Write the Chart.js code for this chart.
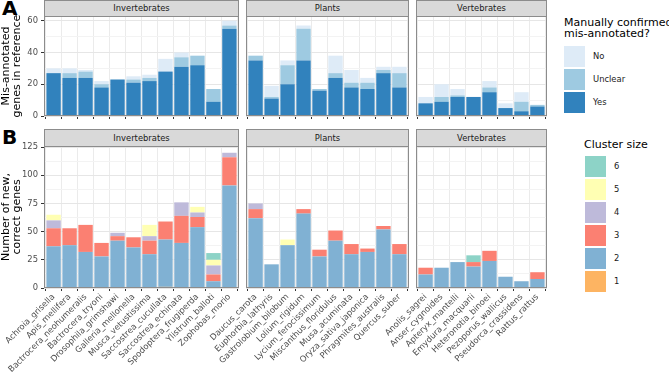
<!DOCTYPE html>
<html>
<head>
<meta charset="utf-8">
<script src="https://cdn.jsdelivr.net/npm/chart.js@4"></script>
<style>
body{margin:0;width:669px;height:374px;position:relative;background:#fff;font-family:"DejaVu Sans",sans-serif;overflow:hidden}
canvas{position:absolute}
.strip{position:absolute;box-sizing:border-box;background:#d9d9d9;border:1px solid #8c8c8c;color:#1a1a1a;font-size:8.4px;text-align:center}
.tag{position:absolute;font-weight:bold;font-size:20px;line-height:20px;color:#000}
.lgt{position:absolute;font-size:11px;line-height:10.5px;color:#000;white-space:nowrap}
.lgl{position:absolute;font-size:8.4px;color:#1a1a1a}
.key{position:absolute;width:21px;height:21px}
</style>
</head>
<body>
<div class="tag" style="left:2px;top:-2px">A</div>
<div class="tag" style="left:2px;top:127px">B</div>
<script>
// facets and species
const groups=['Invertebrates','Plants','Vertebrates'];
const invertebrates=['Achroia_grisella','Apis_mellifera','Bactrocera_neohumeralis','Bactrocera_tryoni','Drosophila_grimshawi','Galleria_mellonella','Musca_vetustissima','Saccostrea_cucullata','Saccostrea_echinata','Spodoptera_frugiperda','Ylistrum_balloti','Zophobas_morio'];
const plants=['Daucus_carota','Euphorbia_lathyris','Gastrolobium_bilobum','Lolium_rigidum','Lycium_ferocissimum','Miscanthus_floridulus','Musa_acuminata','Oryza_sativa_japonica','Phragmites_australis','Quercus_suber'];
const vertebrates=['Anolis_sagrei','Anser_cygnoides','Apteryx_mantelli','Emydura_macquarii','Heteronotia_binoei','Pezoporus_wallicus','Pseudorca_crassidens','Rattus_rattus'];
const speciesByGroup=[invertebrates,plants,vertebrates];

// panel A: mis-annotated genes in reference (per facet)
const misLevels=['Yes','Unclear','No'];
const misYes=[[27,24,24,18,23,21,22,28,31,32,9,55],[35,11,20,35,16,24,18,17,27,18],[8,9,12,12,15,5,3,6]];
const misUnclear=[[0,3,4,2,0,2,2,0,6,6,8,2],[3,1,12,20,1,3,3,4,2,9],[0,3,1,0,3,0,6,1]];
const misNo=[[3,3,1,2,0,2,2,8,3,0,0,3],[0,7,3,2,0,11,8,3,2,4],[4,8,4,0,4,3,6,0]];
const misColors=['#3182bd','#9ecae1','#deebf7'];

// panel B: new, correct genes by cluster size
const clusterLevels=['1','2','3','4','5','6'];
const cluster1=[[0,0,0,0,0,0,0,1,0,0,0,0],[0,0,0,0,0,0,0,0,0,0],[0,0,0,0,0,0,0,0]];
const cluster2=[[37,38,32,28,42,36,30,42,40,54,6,91],[62,21,38,66,28,42,30,32,52,30],[12,18,23,19,24,10,6,8]];
const cluster3=[[16,15,24,12,4,9,12,16,24,9,6,25],[8,0,0,4,6,9,9,3,3,9],[6,0,0,4,9,0,0,6]];
const cluster4=[[7,0,0,0,3,0,4,0,12,4,8,4],[5,0,0,0,0,0,0,0,0,0],[0,0,0,0,0,0,0,0]];
const cluster5=[[5,0,0,0,0,0,10,0,0,5,5,0],[0,0,5,0,0,0,0,0,0,0],[0,0,0,0,0,0,0,0]];
const cluster6=[[0,0,0,0,0,0,0,0,0,0,6,0],[0,0,0,0,0,0,0,0,0,0],[0,0,0,6,0,0,0,0]];
const clusterColors=['#fdb462','#80b1d3','#fb8072','#bebada','#ffffb3','#8dd3c7'];

const yTicksA=[0,20,40,60];
const yTicksB=[0,25,50,75,100,125];

Chart.defaults.font.family='"DejaVu Sans", sans-serif';
const panelX=[[44,239],[246,409],[416,547]];

const panelBorder={id:'panelBorder',afterDraw(c){
  const a=c.chartArea,ctx=c.ctx;
  ctx.save();ctx.strokeStyle='#8c8c8c';ctx.lineWidth=1;
  ctx.strokeRect(Math.round(a.left)+0.5,Math.round(a.top)+0.5,Math.round(a.right-a.left)-1,Math.round(a.bottom-a.top)-1);
  ctx.restore();
}};

function withMinor(t){
  const out=[];
  t.forEach((v,i)=>{out.push(v);if(i<t.length-1)out.push((v+t[i+1])/2);});
  return out;
}

function makePanel(g,top,bottom,yMax,ticks,series,colors,levels,showLabels,yTitle){
  const names=speciesByGroup[g];
  const [x0,x1]=panelX[g];
  const first=g===0;
  const L=first?44:60,R=4,T=10;
  const xH=showLabels?374-bottom:4;
  const padB=showLabels?0:6;
  const W=L+(x1-x0)+R,H=T+(bottom-top)+xH+padB;
  const cv=document.createElement('canvas');
  cv.width=W;cv.height=H;
  cv.style.left=(x0-L)+'px';cv.style.top=(top-T)+'px';
  cv.style.width=W+'px';cv.style.height=H+'px';
  document.body.appendChild(cv);

  const st=document.createElement('div');
  st.className='strip';
  st.textContent=groups[g];
  const sh=showLabels?18:17, stTop=top-sh+1;
  st.style.cssText+=`left:${x0}px;top:${stTop}px;width:${x1-x0}px;height:${sh}px;line-height:${sh-2}px`;
  document.body.appendChild(st);

  const yAll=withMinor(ticks);
  new Chart(cv,{
    type:'bar',
    data:{datasets:series.map((s,k)=>({
      label:levels[k],
      data:s[g].map((v,i)=>({x:i+1,y:v})),
      backgroundColor:colors[k],
      borderWidth:0,
      barPercentage:0.9,
      categoryPercentage:1
    }))},
    options:{
      responsive:false,animation:false,
      layout:{padding:{left:first?0:L,right:R,top:T,bottom:padB}},
      plugins:{legend:{display:false},tooltip:{enabled:false}},
      scales:{
        x:{type:'linear',stacked:true,min:0.4,max:names.length+0.6,offset:false,
          afterBuildTicks:s=>{s.ticks=names.map((_,i)=>({value:i+1}));},
          afterFit:s=>{s.height=xH;},
          ticks:{display:showLabels,autoSkip:false,maxRotation:45,minRotation:45,padding:1,color:'#4d4d4d',font:{size:8.4},callback:v=>names[v-1]},
          grid:{color:'#ebebeb',drawTicks:true,tickLength:3,tickColor:'#333'},
          border:{display:false}},
        y:{stacked:true,min:0,max:yMax,
          afterBuildTicks:s=>{s.ticks=yAll.map(v=>({value:v}));},
          afterFit:s=>{s.width=first?L:0;},
          ticks:{display:first,padding:3,color:'#4d4d4d',font:{size:8.4},callback:v=>ticks.includes(v)?v:''},
          grid:{color:c=>ticks.includes(c.tick.value)?'#e6e6e6':'#f3f3f3',drawTicks:first,tickLength:3,
                tickColor:c=>ticks.includes(c.tick.value)?'#333':'rgba(0,0,0,0)'},
          border:{display:false},
          title:{display:first,text:yTitle,color:'#000',font:{size:11,lineHeight:0.95},padding:{top:1,bottom:0}}}
      }
    },
    plugins:[panelBorder]
  });
}

for(let g=0;g<3;g++){
  makePanel(g,16,116,63,yTicksA,[misYes,misUnclear,misNo],misColors,misLevels,false,['Mis-annotated','genes in reference']);
  makePanel(g,146,288,126,yTicksB,[cluster1,cluster2,cluster3,cluster4,cluster5,cluster6],clusterColors,clusterLevels,true,['Number of new,','correct genes']);
}

function legend(title,left,top,keyLeft,keyTops,levels,colors){
  const t=document.createElement('div');
  t.className='lgt';t.style.left=left+'px';t.style.top=top+'px';
  t.innerHTML=title;document.body.appendChild(t);
  keyTops.forEach((y,i)=>{
    const k=levels.length-1-i;
    const b=document.createElement('div');
    b.className='key';b.style.left=keyLeft+'px';b.style.top=y+'px';b.style.background=colors[k];
    document.body.appendChild(b);
    const l=document.createElement('div');
    l.className='lgl';l.style.left=(keyLeft+29)+'px';l.style.top=(y+5)+'px';l.textContent=levels[k];
    document.body.appendChild(l);
  });
}
legend('Manually confirmed<br>mis-annotated?',564,18,564,[46,69,92],misLevels,misColors);
legend('Cluster size',584,140,585,[156,179,202,225,248,271],clusterLevels,clusterColors);
</script>
</body>
</html>
